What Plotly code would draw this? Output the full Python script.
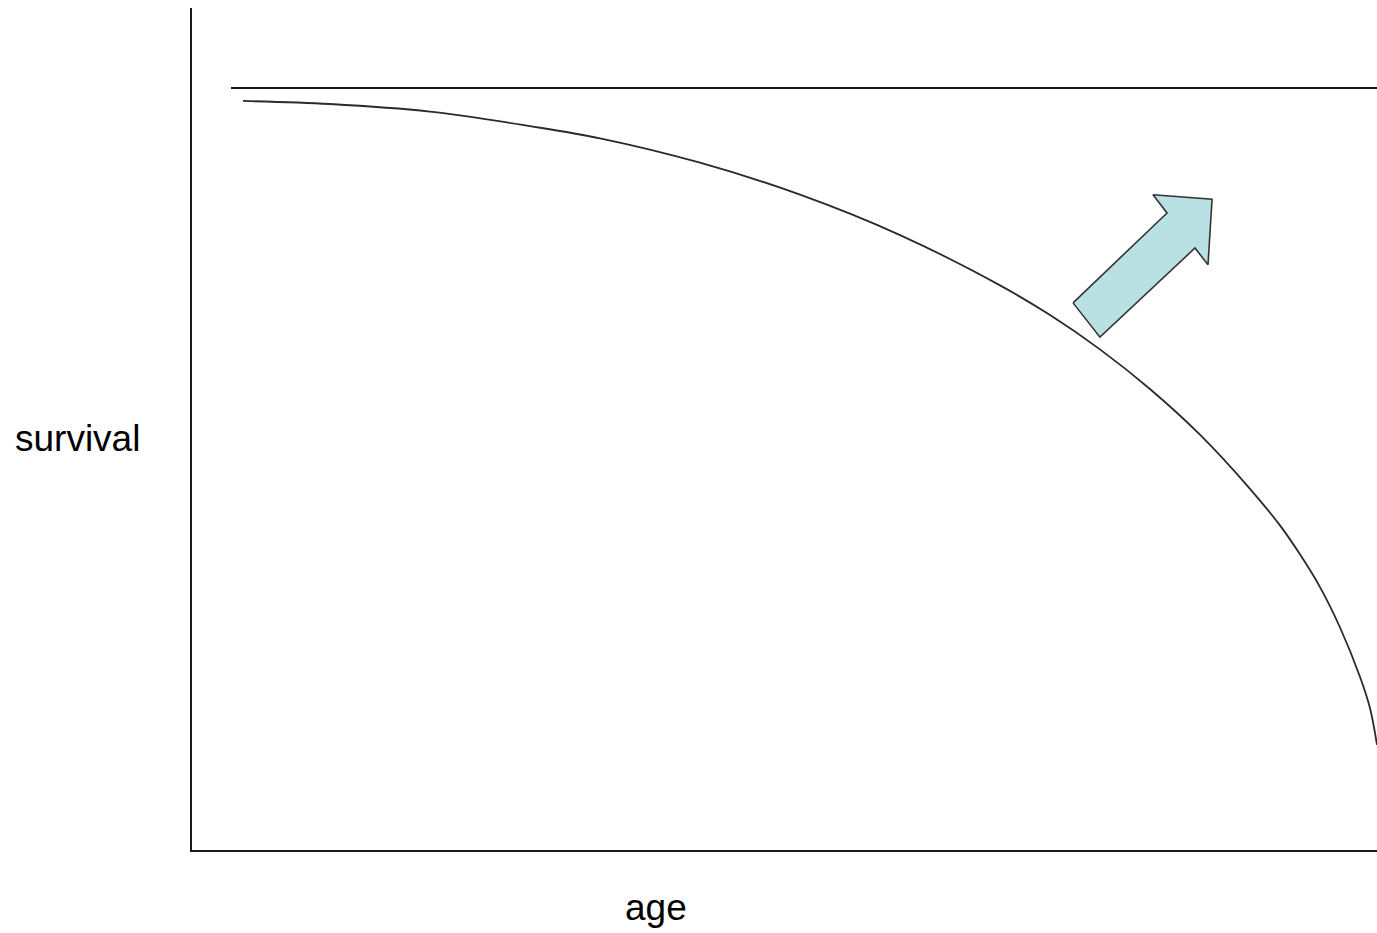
import plotly.graph_objects as go

# Survival curve (age in %, survival fraction)
age = [4.30, 11.65, 20.08, 28.52, 34.43, 42.87, 51.31, 59.75, 68.19, 72.41,
       76.62, 80.84, 85.06, 89.28, 91.81, 93.50, 95.19, 96.88, 98.57, 99.41, 100.0]
survival = [0.983, 0.979, 0.969, 0.950, 0.934, 0.902, 0.860, 0.807, 0.741, 0.702,
            0.657, 0.605, 0.545, 0.474, 0.426, 0.388, 0.345, 0.292, 0.227, 0.186, 0.138]

# Ideal (rectangular) survival line
ideal_age = [3.29, 100.0]
ideal_survival = [1.0, 1.0]

# Arrow outline
arrow_x = [74.35, 82.28, 81.10, 86.08, 85.74, 84.64, 76.62, 74.35]
arrow_y = [0.718, 0.836, 0.860, 0.854, 0.768, 0.790, 0.673, 0.718]

fig = go.Figure()
fig.add_trace(go.Scatter(x=ideal_age, y=ideal_survival, mode="lines",
                         line=dict(color="#1a1a1a", width=2), hoverinfo="skip"))
fig.add_trace(go.Scatter(x=age, y=survival, mode="lines",
                         line=dict(color="#2a2a2a", width=1.8, shape="spline", smoothing=1.0),
                         hoverinfo="skip"))
fig.add_trace(go.Scatter(x=arrow_x, y=arrow_y, mode="lines", fill="toself",
                         fillcolor="#B9E0E3", line=dict(color="#333333", width=1.6),
                         hoverinfo="skip"))

fig.update_layout(
    width=1377, height=933,
    margin=dict(l=192, r=0, t=8, b=83),
    paper_bgcolor="white", plot_bgcolor="white",
    showlegend=False,
    xaxis=dict(range=[0, 100], showgrid=False, zeroline=False, showticklabels=False,
               ticks="", showline=True, linecolor="#1a1a1a", linewidth=2),
    yaxis=dict(range=[0, 842 / 762], showgrid=False, zeroline=False, showticklabels=False,
               ticks="", showline=True, linecolor="#1a1a1a", linewidth=2),
    annotations=[
        dict(text="survival", xref="paper", yref="paper", x=-0.097, y=0.489,
             xanchor="center", yanchor="middle", showarrow=False,
             font=dict(family="Liberation Sans, Arial", size=37, color="black")),
        dict(text="age", xref="paper", yref="paper", x=0.3916, y=-0.068,
             xanchor="center", yanchor="middle", showarrow=False,
             font=dict(family="Liberation Sans, Arial", size=37, color="black")),
    ],
)

fig.write_html("out.html", config={"displayModeBar": False},
               post_script="document.body.style.margin='0';document.body.style.overflow='hidden';")
